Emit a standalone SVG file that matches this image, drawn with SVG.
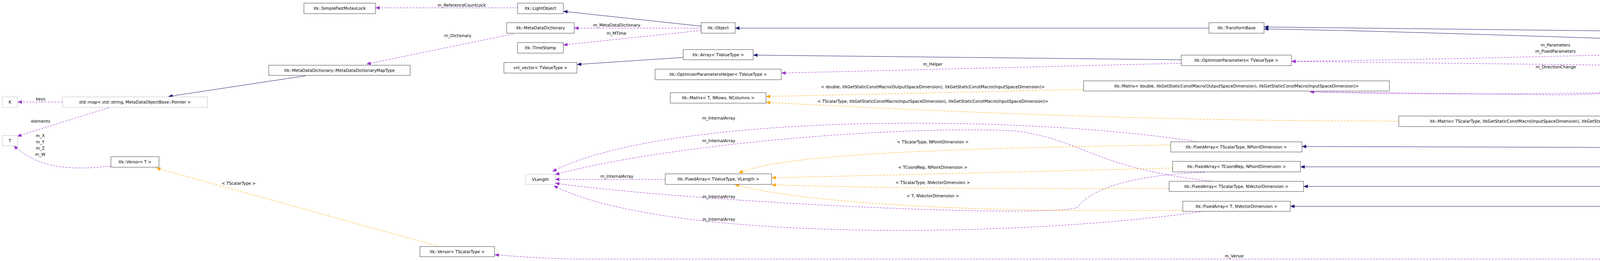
<svg xmlns="http://www.w3.org/2000/svg" width="6365" height="668" viewBox="0 0 6365 668">
<style>
.n rect{fill:#fff;stroke:#404040;stroke-width:1}
.g rect{fill:#fff;stroke:#bfbfbf;stroke-width:1}
.h rect{fill:#bfbfbf;stroke:#404040;stroke-width:1}
text{font-family:"DejaVu Sans","Liberation Sans",sans-serif;font-size:10.5px;fill:#000}
.n text,.g text,.h text{text-anchor:middle}
.l{text-anchor:middle}
.e path{fill:none;stroke-width:1}
.nv{stroke:#191970;marker-end:url(#an)}
.pu{stroke:#9a32cd;stroke-dasharray:5,3;marker-end:url(#ap)}
.or{stroke:#ffa500;stroke-dasharray:5,3;marker-end:url(#ao)}
</style>
<defs>
<marker id="an" markerWidth="12" markerHeight="10" refX="11" refY="5" orient="auto" markerUnits="userSpaceOnUse"><path d="M0,0.5 L11,5 L0,9.5 z" fill="#191970"/></marker>
<marker id="ap" markerWidth="12" markerHeight="10" refX="11" refY="5" orient="auto" markerUnits="userSpaceOnUse"><path d="M0,0.5 L11,5 L0,9.5 z" fill="#9a32cd"/></marker>
<marker id="ao" markerWidth="12" markerHeight="10" refX="11" refY="5" orient="auto" markerUnits="userSpaceOnUse"><path d="M0,0.5 L11,5 L0,9.5 z" fill="#ffa500"/></marker>
</defs>
<g id="edges" class="e">
<path class="pu" d="M1325,20 L961,20"/>
<path class="pu" d="M1313,87 L938,164"/>
<path class="nv" d="M782,194 L431,247"/>
<path class="pu" d="M160,261 L45,261"/>
<path class="pu" d="M279,276 Q150,315 44,349"/>
<path class="pu" d="M284,425 C150,440 90,420 35,373"/>
<path class="or" d="M1121,630 L400,430"/>
<path class="nv" d="M1795,67 L1442,29"/>
<path class="pu" d="M1795,72 L1470,72"/>
<path class="pu" d="M1795,78 L1442,115"/>
<path class="nv" d="M1749,147 L1477,165"/>
<path class="nv" d="M3095,72 L1882,72"/>
<path class="nv" d="M3024,153 L1928,141"/>
<path class="pu" d="M3024,162 L2000,187"/>
<path class="or" d="M2774,229 L1961,247"/>
<path class="or" d="M3581,310 C3000,310 2500,290 1961,262"/>
<path class="pu" d="M3068,363 C2600,290 1700,290 1414,439"/>
<path class="pu" d="M3104,464 C2800,430 2780,360 2600,335 C2300,320 1700,370 1421,447"/>
<path class="pu" d="M1703,459 L1421,459"/>
<path class="pu" d="M3084,441 C2850,450 2780,500 2760,530 C2700,560 1800,520 1421,469"/>
<path class="pu" d="M3080,541 C2600,610 1700,620 1417,475"/>
<path class="or" d="M2997,371 C2400,380 2000,395 1891,443"/>
<path class="or" d="M3002,430 C2600,440 2200,450 1975,455"/>
<path class="or" d="M2993,482 C2600,485 2200,480 1975,473"/>
<path class="or" d="M3028,538 C2500,545 2050,520 1881,472"/>
<path class="nv" d="M5360,395 C5000,380 4500,378 3333,375"/>
<path class="nv" d="M4498,427 L3329,427"/>
<path class="nv" d="M5346,477 L3337,477"/>
<path class="nv" d="M4519,528 L3303,528"/>
<path class="nv" d="M5553,170 C5350,105 5100,92 4800,87 L3236,69"/>
<path class="nv" d="M4408,107 C4000,96 3600,80 3236,74"/>
<path class="or" d="M5471,175 L4833,128"/>
<path class="pu" d="M4510,128 C4200,140 3700,152 3306,157"/>
<path class="pu" d="M5471,183 C5000,178 4000,165 3306,157"/>
<path class="pu" d="M4439,128 C4380,160 4400,235 4000,243 L3353,235"/>
<path class="pu" d="M5471,193 C5000,215 4000,255 3353,235"/>
<path class="nv" d="M6169,396 C6000,280 5900,260 5657,197"/>
<path class="pu" d="M6080,395 C5500,360 5000,330 4384,317"/>
<path class="or" d="M5351,413 C5000,425 4900,424 4791,424"/>
<path class="or" d="M5507,490 C5300,520 5000,528 4770,529"/>
<path class="pu" d="M6025,409 L5838,409"/>
<path class="pu" d="M6131,423 C6000,445 5900,455 5840,462"/>
<path class="pu" d="M6174,423 C6000,570 5800,663 5500,663 L1500,663 C1400,663 1320,656 1266,652"/>
<text class="l" x="1182" y="17">m_ReferenceCountLock</text>
<text class="l" x="1172" y="95">m_Dictionary</text>
<text class="l" x="104" y="257">keys</text>
<text class="l" x="104" y="314">elements</text>
<text class="l" x="103" y="351">m_X</text>
<text class="l" x="103" y="367">m_Y</text>
<text class="l" x="103" y="383">m_Z</text>
<text class="l" x="103" y="399">m_W</text>
<text class="l" x="611" y="473">&lt; TScalarType &gt;</text>
<text class="l" x="1579" y="68">m_MetaDataDictionary</text>
<text class="l" x="1578" y="89">m_MTime</text>
<text class="l" x="2388" y="168">m_Helper</text>
<text class="l" x="2388" y="226">&lt; double, itkGetStaticConstMacro(OutputSpaceDimension), itkGetStaticConstMacro(InputSpaceDimension)&gt;</text>
<text class="l" x="2388" y="263">&lt; TScalarType, itkGetStaticConstMacro(InputSpaceDimension), itkGetStaticConstMacro(InputSpaceDimension)&gt;</text>
<text class="l" x="1840" y="306">m_InternalArray</text>
<text class="l" x="1840" y="364">m_InternalArray</text>
<text class="l" x="1579" y="455">m_InternalArray</text>
<text class="l" x="1840" y="507">m_InternalArray</text>
<text class="l" x="1840" y="565">m_InternalArray</text>
<text class="l" x="2388" y="367">&lt; TScalarType, NPointDimension &gt;</text>
<text class="l" x="2388" y="432">&lt; TCoordRep, NPointDimension &gt;</text>
<text class="l" x="2388" y="471">&lt; TScalarType, NVectorDimension &gt;</text>
<text class="l" x="2388" y="505">&lt; T, NVectorDimension &gt;</text>
<text class="l" x="3982" y="119">m_Parameters</text>
<text class="l" x="3982" y="135">m_FixedParameters</text>
<text class="l" x="3983" y="175">m_DirectionChange</text>
<text class="l" x="4645" y="153">m_Parameters</text>
<text class="l" x="4645" y="168">m_FixedParameters</text>
<text class="l" x="4645" y="223">m_DirectionChange</text>
<text class="l" x="5115" y="131">&lt; TScalarType, 3, 2 &gt;</text>
<text class="l" x="5116" y="329">m_RotationMatrix</text>
<text class="l" x="5115" y="410">&lt; TScalarType, itkGetStaticConstMacro(InputSpaceDimension)&gt;</text>
<text class="l" x="5115" y="508">&lt; TScalarType, itkGetStaticConstMacro(InputSpaceDimension)&gt;</text>
<text class="l" x="5935" y="404">m_CenterOfRotation</text>
<text class="l" x="5933" y="426">m_Offset</text>
<text class="l" x="5933" y="442">m_FixedOffset</text>
<text class="l" x="3160" y="659">m_Versor</text>
</g>
<g id="n1" class="n"><rect x="778" y="8" width="183" height="27"/><text x="869.5" y="25">itk::SimpleFastMutexLock</text></g>
<g id="n2" class="n"><rect x="1325" y="8" width="117" height="27"/><text x="1383.5" y="25">itk::LightObject</text></g>
<g id="n3" class="n"><rect x="1297" y="58" width="173" height="27"/><text x="1383.5" y="75">itk::MetaDataDictionary</text></g>
<g id="n4" class="n"><rect x="1325" y="109" width="117" height="27"/><text x="1383.5" y="126">itk::TimeStamp</text></g>
<g id="n5" class="n"><rect x="1290" y="160" width="187" height="27"/><text x="1383.5" y="177">vnl_vector&lt; TValueType &gt;</text></g>
<g id="n6" class="n"><rect x="688" y="167" width="362" height="26"/><text x="869" y="184">itk::MetaDataDictionary::MetaDataDictionaryMapType</text></g>
<g id="n7" class="g"><rect x="6" y="248" width="39" height="27"/><text x="25.5" y="265">K</text></g>
<g id="n8" class="g"><rect x="160" y="248" width="371" height="27"/><text x="345.5" y="265">std::map&lt; std::string, MetaDataObjectBase::Pointer &gt;</text></g>
<g id="n9" class="g"><rect x="6" y="347" width="39" height="26"/><text x="25.5" y="364">T</text></g>
<g id="n10" class="n"><rect x="284" y="401" width="123" height="27"/><text x="345.5" y="418">itk::Versor&lt; T &gt;</text></g>
<g id="n11" class="g"><rect x="1346" y="446" width="75" height="26"/><text x="1383.5" y="463">VLength</text></g>
<g id="n12" class="n"><rect x="1075" y="631" width="191" height="26"/><text x="1170.5" y="648">itk::Versor&lt; TScalarType &gt;</text></g>
<g id="n13" class="n"><rect x="1795" y="58" width="87" height="27"/><text x="1838.5" y="75">itk::Object</text></g>
<g id="n14" class="n"><rect x="1749" y="127" width="179" height="26"/><text x="1838.5" y="144">itk::Array&lt; TValueType &gt;</text></g>
<g id="n15" class="n"><rect x="1677" y="177" width="323" height="27"/><text x="1838.5" y="194">itk::OptimizerParametersHelper&lt; TValueType &gt;</text></g>
<g id="n16" class="n"><rect x="1716" y="237" width="245" height="27"/><text x="1838.5" y="254">itk::Matrix&lt; T, NRows, NColumns &gt;</text></g>
<g id="n17" class="n"><rect x="1703" y="445" width="272" height="27"/><text x="1839" y="462">itk::FixedArray&lt; TValueType, VLength &gt;</text></g>
<g id="n18" class="n"><rect x="3095" y="58" width="141" height="27"/><text x="3165.5" y="75">itk::TransformBase</text></g>
<g id="n19" class="n"><rect x="3024" y="141" width="282" height="27"/><text x="3165" y="158">itk::OptimizerParameters&lt; TValueType &gt;</text></g>
<g id="n20" class="n"><rect x="2774" y="207" width="783" height="26"/><text x="3165.5" y="224">itk::Matrix&lt; double, itkGetStaticConstMacro(OutputSpaceDimension), itkGetStaticConstMacro(InputSpaceDimension)&gt;</text></g>
<g id="n21" class="n"><rect x="2997" y="363" width="336" height="26"/><text x="3165" y="380">itk::FixedArray&lt; TScalarType, NPointDimension &gt;</text></g>
<g id="n22" class="n"><rect x="3002" y="413" width="327" height="27"/><text x="3165.5" y="430">itk::FixedArray&lt; TCoordRep, NPointDimension &gt;</text></g>
<g id="n23" class="n"><rect x="2993" y="464" width="344" height="26"/><text x="3165" y="481">itk::FixedArray&lt; TScalarType, NVectorDimension &gt;</text></g>
<g id="n24" class="n"><rect x="3028" y="515" width="275" height="26"/><text x="3165.5" y="532">itk::FixedArray&lt; T, NVectorDimension &gt;</text></g>
<g id="n25" class="n"><rect x="3581" y="297" width="803" height="27"/><text x="3982.5" y="314">itk::Matrix&lt; TScalarType, itkGetStaticConstMacro(InputSpaceDimension), itkGetStaticConstMacro(InputSpaceDimension)&gt;</text></g>
<g id="n26" class="n"><rect x="4408" y="101" width="475" height="27"/><text x="4645.5" y="118">itk::Transform&lt; TScalarType, NInputDimensions, NOutputDimensions &gt;</text></g>
<g id="n27" class="n"><rect x="5471" y="170" width="246" height="27"/><text x="5594" y="187">itk::Transform&lt; TScalarType, 3, 2 &gt;</text></g>
<g id="n28" class="n"><rect x="4498" y="413" width="293" height="27"/><text x="4644.5" y="430">itk::Point&lt; TCoordRep, NPointDimension &gt;</text></g>
<g id="n29" class="n"><rect x="4519" y="515" width="251" height="26"/><text x="4644.5" y="532">itk::Vector&lt; T, NVectorDimension &gt;</text></g>
<g id="n30" class="n"><rect x="5351" y="395" width="487" height="28"/><text x="5594.5" y="413">itk::Point&lt; TScalarType, itkGetStaticConstMacro(InputSpaceDimension)&gt;</text></g>
<g id="n31" class="n"><rect x="5346" y="464" width="497" height="26"/><text x="5594.5" y="481">itk::Vector&lt; TScalarType, itkGetStaticConstMacro(InputSpaceDimension)&gt;</text></g>
<g id="n32" class="h"><rect x="6025" y="396" width="334" height="27"/><text x="6192" y="413">itk::Rigid3DPerspectiveTransform&lt; TScalarType &gt;</text></g>
</svg>
